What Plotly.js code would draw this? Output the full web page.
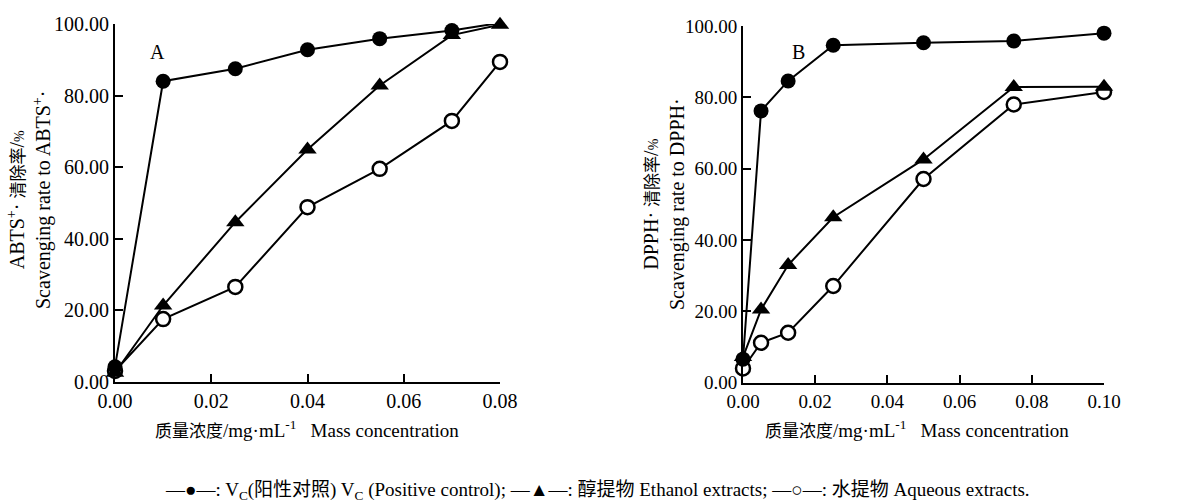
<!DOCTYPE html>
<html>
<head>
<meta charset="utf-8">
<script src="https://cdn.plot.ly/plotly-3.0.1.min.js"></script>
<style>html,body{margin:0;padding:0;background:#fff;}#chart{width:1194px;height:503px;}</style>
</head>
<body>
<div id="chart"></div>
<script>
// Panel A: ABTS
const xA = [0, 0.01, 0.025, 0.04, 0.055, 0.07, 0.08];
const vcA = [4.2, 84.0, 87.5, 92.8, 95.9, 98.2, 100.3];
const ethA = [2.5, 21.3, 44.6, 64.9, 82.8, 96.9, 99.8];
const aqA = [3.0, 17.5, 26.5, 48.8, 59.5, 72.9, 89.4];

// Panel B: DPPH
const xB = [0, 0.005, 0.0125, 0.025, 0.05, 0.075, 0.1];
const vcB = [6.6, 76.2, 84.6, 94.6, 95.3, 95.8, 98.0];
const ethB = [7.2, 20.5, 33.0, 46.4, 62.6, 82.9, 83.0];
const aqB = [4.0, 11.2, 14.0, 27.1, 57.1, 78.0, 81.5];

const yTicks = [0, 20, 40, 60, 80, 100];
const xTicksA = [0, 0.02, 0.04, 0.06, 0.08];
const xTicksB = [0, 0.02, 0.04, 0.06, 0.08, 0.10];

const FONT = 'Liberation Serif, Noto Sans CJK SC, serif';

function series(x, y, xa, ya, kind) {
  const m = {size: 15, color: 'black', line: {color: 'black', width: 0}};
  if (kind === 'tri') { m.symbol = 'triangle-up'; m.size = 16; }
  else if (kind === 'open') { m.symbol = 'circle'; m.color = 'white'; m.size = 14; m.line = {color: 'black', width: 2.5}; }
  else { m.symbol = 'circle'; }
  return {x: x, y: y, xaxis: xa, yaxis: ya, type: 'scatter', mode: 'lines+markers',
    line: {color: 'black', width: 2}, marker: m, cliponaxis: false, showlegend: false};
}

const data = [
  series(xA, aqA, 'x', 'y', 'open'),
  series(xA, ethA, 'x', 'y', 'tri'),
  series(xA, vcA, 'x', 'y', 'vc'),
  series(xB, aqB, 'x2', 'y2', 'open'),
  series(xB, ethB, 'x2', 'y2', 'tri'),
  series(xB, vcB, 'x2', 'y2', 'vc')
];

const W = 1194, H = 503;
function px(x) { return x / W; }
function py(y) { return 1 - y / H; }

function axis(size, extra) {
  return Object.assign({
    showline: true, linecolor: 'black', linewidth: 2, mirror: false,
    ticks: 'inside', ticklen: 8, tickwidth: 2, tickcolor: 'black',
    showgrid: false, zeroline: false, fixedrange: true,
    tickfont: {family: FONT, size: size, color: 'black'}, tickformat: '.2f'
  }, extra);
}

const layout = {
  width: W, height: H,
  margin: {l: 0, r: 0, t: 0, b: 0},
  paper_bgcolor: 'white', plot_bgcolor: 'white',
  font: {family: FONT, color: 'black'},
  xaxis: axis(20, {domain: [px(115), px(500)], range: [0, 0.08], tickvals: xTicksA, anchor: 'y'}),
  yaxis: axis(20, {domain: [py(381.7), py(24)], range: [0, 100], tickvals: yTicks, anchor: 'x'}),
  xaxis2: axis(19, {domain: [px(743), px(1104)], range: [0, 0.1], tickvals: xTicksB, anchor: 'y2'}),
  yaxis2: axis(19, {domain: [py(382.7), py(26)], range: [0, 100], tickvals: yTicks, anchor: 'x2'}),
  annotations: [
    {text: 'A', x: px(157), y: py(52), xref: 'paper', yref: 'paper', xanchor: 'center', yanchor: 'middle', showarrow: false, font: {family: FONT, size: 20}},
    {text: 'B', x: px(798), y: py(52), xref: 'paper', yref: 'paper', xanchor: 'center', yanchor: 'middle', showarrow: false, font: {family: FONT, size: 20}},
    {text: 'ABTS<sup>+</sup>· <span style="font-size:17px">清除率</span>/<span style="font-size:14px">%</span><br>Scavenging rate to ABTS<sup>+</sup>·',
      x: px(30), y: py(200), xref: 'paper', yref: 'paper', xanchor: 'center', yanchor: 'middle', showarrow: false, textangle: -90,
      font: {family: FONT, size: 20}},
    {text: 'DPPH· <span style="font-size:17px">清除率</span>/<span style="font-size:14px">%</span><br>Scavenging rate to DPPH·',
      x: px(664), y: py(204), xref: 'paper', yref: 'paper', xanchor: 'center', yanchor: 'middle', showarrow: false, textangle: -90,
      font: {family: FONT, size: 20}},
    {text: '<span style="font-size:17px">质量浓度</span>/mg·mL<sup>-1</sup>   Mass concentration',
      x: px(307), y: py(429), xref: 'paper', yref: 'paper', xanchor: 'center', yanchor: 'middle', showarrow: false, font: {family: FONT, size: 19}},
    {text: '<span style="font-size:17px">质量浓度</span>/mg·mL<sup>-1</sup>   Mass concentration',
      x: px(917), y: py(429), xref: 'paper', yref: 'paper', xanchor: 'center', yanchor: 'middle', showarrow: false, font: {family: FONT, size: 19}},
    {text: '—●—: V<sub>C</sub>(阳性对照) V<sub>C</sub> (Positive control); —▲—: 醇提物 Ethanol extracts; —○—: 水提物 Aqueous extracts.',
      x: px(597), y: py(491), xref: 'paper', yref: 'paper', xanchor: 'center', yanchor: 'middle', showarrow: false, font: {family: FONT, size: 19}}
  ]
};

Plotly.newPlot('chart', data, layout, {displayModeBar: false, staticPlot: true});
</script>
</body>
</html>
